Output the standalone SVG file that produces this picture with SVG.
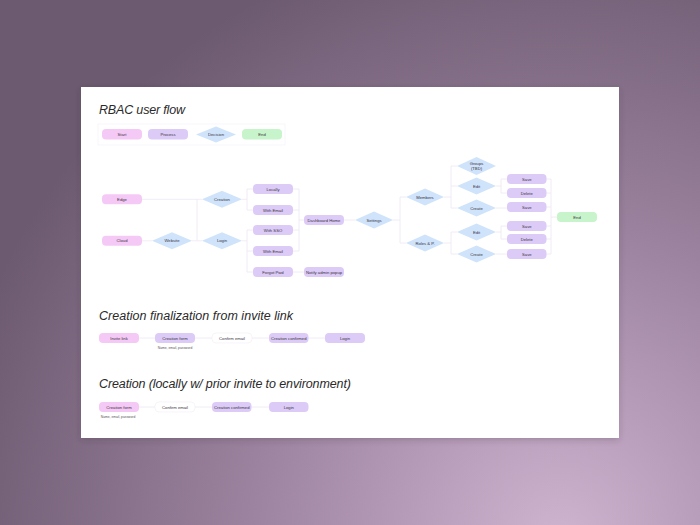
<svg xmlns="http://www.w3.org/2000/svg" width="700" height="525" viewBox="0 0 700 525">
<defs>
<radialGradient id="bg" cx="560" cy="540" r="620" gradientUnits="userSpaceOnUse">
<stop offset="0" stop-color="#cfb4d0"/>
<stop offset="0.5" stop-color="#9c839f"/>
<stop offset="1" stop-color="#6c5a70"/>
</radialGradient>
<filter id="sh" x="-5%" y="-5%" width="110%" height="115%">
<feDropShadow dx="0" dy="2" stdDeviation="3" flood-color="#3a2a3c" flood-opacity="0.25"/>
</filter>
</defs>
<style>
.t{font-family:"Liberation Sans","DejaVu Sans",sans-serif;font-size:4.2px;fill:#3a3340;text-anchor:middle;dominant-baseline:central}
.h{font-family:"Liberation Sans","DejaVu Sans",sans-serif;font-size:12.5px;fill:#2a2a2a;font-style:italic}
.c{font-family:"Liberation Sans","DejaVu Sans",sans-serif;font-size:3.3px;fill:#555;text-anchor:middle}
.s{fill:#f5c9f5}
.p{fill:#dccbf7}
.d{fill:#cfe3fb}
.e{fill:#c8f4cb}
.w{fill:#ffffff;stroke:#f1edf3;stroke-width:0.6}
.ln{fill:none;stroke:#efe7f2;stroke-width:0.8}
</style>
<rect x="0" y="0" width="700" height="525" fill="url(#bg)"/>
<rect x="81" y="87" width="538" height="351" fill="#ffffff" filter="url(#sh)"/>

<text class="h" x="99" y="114" textLength="86">RBAC user flow</text>
<text class="h" x="99" y="320" textLength="194">Creation finalization from invite link</text>
<text class="h" x="99" y="388" textLength="252">Creation (locally w/ prior invite to environment)</text>

<g id="legend">
<rect x="98" y="124" width="187" height="21" fill="none" stroke="#f1eef3" stroke-width="0.6"/>
<g id="lg-start"><rect class="s" x="102" y="129" width="40" height="10.5" rx="4"/><text class="t" x="122" y="134.2">Start</text></g>
<g id="lg-process"><rect class="p" x="148" y="129" width="40" height="10.5" rx="4"/><text class="t" x="168" y="134.2">Process</text></g>
<g id="lg-decision"><polygon class="d" points="196,134.5 216,126.5 236,134.5 216,142.5"/><text class="t" x="216" y="134.5">Decision</text></g>
<g id="lg-end"><rect class="e" x="242" y="129" width="40" height="10.5" rx="4"/><text class="t" x="262" y="134.2">End</text></g>
</g>

<g id="connectors">
<path class="ln" d="M142,199.3H202 M142,240.8H152 M192,240.8H202 M197,199.3V240.8"/>
<path class="ln" d="M242,199.3H247 M247,189V210 M247,189H253 M247,210H253"/>
<path class="ln" d="M242,240.8H247 M247,230V272 M247,230H253 M247,251H253 M247,272H253"/>
<path class="ln" d="M293,189H299 M293,210H299 M293,230H299 M293,251H299 M299,189V251 M299,220H304"/>
<path class="ln" d="M293,272H304 M344,220H355"/>
<path class="ln" d="M393,220H400 M400,197V243 M400,197H406 M400,243H406"/>
<path class="ln" d="M444,197H451 M451,166V208 M451,166H457 M451,186H457 M451,208H457"/>
<path class="ln" d="M444,243H451 M451,232V254 M451,232H457 M451,254H457"/>
<path class="ln" d="M496,186H501 M501,179V193 M501,179H507 M501,193H507 M496,208H507"/>
<path class="ln" d="M496,232H501 M501,226V239 M501,226H507 M501,239H507 M496,254H507"/>
<path class="ln" d="M546,179H551 M546,193H551 M546,207H551 M546,226H551 M546,239H551 M546,254H551 M551,179V254 M551,217H557"/>
<path class="ln" d="M139,338H155 M195,338H212 M252,338H269 M308,338H325"/>
<path class="ln" d="M139,407H155 M195,407H212 M251,407H269"/>
</g>

<g id="n-edge"><rect class="s" x="102" y="194.3" width="40" height="10" rx="4"/><text class="t" x="122" y="199.3">Edge</text></g>
<g id="n-cloud"><rect class="s" x="102" y="235.8" width="40" height="10" rx="4"/><text class="t" x="122" y="240.8">Cloud</text></g>
<g id="n-website"><polygon class="d" points="152,240.8 172,232.3 192,240.8 172,249.3"/><text class="t" x="172" y="240.8">Website</text></g>
<g id="n-creation"><polygon class="d" points="202,199.3 222,190.8 242,199.3 222,207.8"/><text class="t" x="222" y="199.3">Creation</text></g>
<g id="n-login"><polygon class="d" points="202,240.8 222,232.3 242,240.8 222,249.3"/><text class="t" x="222" y="240.8">Login</text></g>

<g id="n-locally"><rect class="p" x="253" y="184" width="40" height="10" rx="4"/><text class="t" x="273" y="189">Locally</text></g>
<g id="n-withemail1"><rect class="p" x="253" y="205" width="40" height="10" rx="4"/><text class="t" x="273" y="210">With Email</text></g>
<g id="n-withsso"><rect class="p" x="253" y="225" width="40" height="10" rx="4"/><text class="t" x="273" y="230">With SSO</text></g>
<g id="n-withemail2"><rect class="p" x="253" y="246" width="40" height="10" rx="4"/><text class="t" x="273" y="251">With Email</text></g>
<g id="n-forgot"><rect class="p" x="253" y="267" width="40" height="10" rx="4"/><text class="t" x="273" y="272">Forgot Pwd</text></g>
<g id="n-dashboard"><rect class="p" x="304" y="215" width="40" height="10" rx="4"/><text class="t" x="324" y="220">Dashboard Home</text></g>
<g id="n-notify"><rect class="p" x="304" y="267" width="40" height="10" rx="4"/><text class="t" x="324" y="272">Notify admin popup</text></g>
<g id="n-settings"><polygon class="d" points="355,220 374,211.5 393,220 374,228.5"/><text class="t" x="374" y="220">Settings</text></g>
<g id="n-members"><polygon class="d" points="406,197 425,188.5 444,197 425,205.5"/><text class="t" x="425" y="197">Members</text></g>
<g id="n-roles"><polygon class="d" points="406,243 425,234.5 444,243 425,251.5"/><text class="t" x="425" y="243">Roles &amp; P.</text></g>
<g id="n-groups"><polygon class="d" points="457,166 476.5,157 496,166 476.5,175"/><text class="t" x="476.5" y="163.8">Groups</text><text class="t" x="476.5" y="168.3">(TBD)</text></g>
<g id="n-edit1"><polygon class="d" points="457,186 476.5,177.5 496,186 476.5,194.5"/><text class="t" x="476.5" y="186">Edit</text></g>
<g id="n-create1"><polygon class="d" points="457,208 476.5,199.5 496,208 476.5,216.5"/><text class="t" x="476.5" y="208">Create</text></g>
<g id="n-edit2"><polygon class="d" points="457,232 476.5,223.5 496,232 476.5,240.5"/><text class="t" x="476.5" y="232">Edit</text></g>
<g id="n-create2"><polygon class="d" points="457,254 476.5,245.5 496,254 476.5,262.5"/><text class="t" x="476.5" y="254">Create</text></g>

<g id="n-save1"><rect class="p" x="507" y="174" width="39.5" height="10" rx="4"/><text class="t" x="526.8" y="179">Save</text></g>
<g id="n-delete1"><rect class="p" x="507" y="188" width="39.5" height="10" rx="4"/><text class="t" x="526.8" y="193">Delete</text></g>
<g id="n-save2"><rect class="p" x="507" y="202" width="39.5" height="10" rx="4"/><text class="t" x="526.8" y="207">Save</text></g>
<g id="n-save3"><rect class="p" x="507" y="221" width="39.5" height="10" rx="4"/><text class="t" x="526.8" y="226">Save</text></g>
<g id="n-delete2"><rect class="p" x="507" y="234" width="39.5" height="10" rx="4"/><text class="t" x="526.8" y="239">Delete</text></g>
<g id="n-save4"><rect class="p" x="507" y="249" width="39.5" height="10" rx="4"/><text class="t" x="526.8" y="254">Save</text></g>
<g id="n-end"><rect class="e" x="557" y="212" width="40" height="10" rx="4"/><text class="t" x="577" y="217">End</text></g>

<g id="f2-invite"><rect class="s" x="99" y="333" width="40" height="10" rx="4"/><text class="t" x="119" y="338">Invite link</text></g>
<g id="f2-form"><rect class="p" x="155" y="333" width="40" height="10" rx="4"/><text class="t" x="175" y="338">Creation form</text><text class="c" x="175" y="349">Name, email, password</text></g>
<g id="f2-confirm"><rect class="w" x="212" y="333" width="40" height="10" rx="4"/><text class="t" x="232" y="338">Confirm email</text></g>
<g id="f2-confirmed"><rect class="p" x="269" y="333" width="39.5" height="10" rx="4"/><text class="t" x="288.8" y="338">Creation confirmed</text></g>
<g id="f2-login"><rect class="p" x="325" y="333" width="40" height="10" rx="4"/><text class="t" x="345" y="338">Login</text></g>

<g id="f3-form"><rect class="s" x="99" y="402" width="40" height="10" rx="4"/><text class="t" x="119" y="407">Creation form</text><text class="c" x="118" y="418">Name, email, password</text></g>
<g id="f3-confirm"><rect class="w" x="155" y="402" width="40" height="10" rx="4"/><text class="t" x="175" y="407">Confirm email</text></g>
<g id="f3-confirmed"><rect class="p" x="212" y="402" width="39.5" height="10" rx="4"/><text class="t" x="231.8" y="407">Creation confirmed</text></g>
<g id="f3-login"><rect class="p" x="269" y="402" width="39.5" height="10" rx="4"/><text class="t" x="288.8" y="407">Login</text></g>
</svg>
